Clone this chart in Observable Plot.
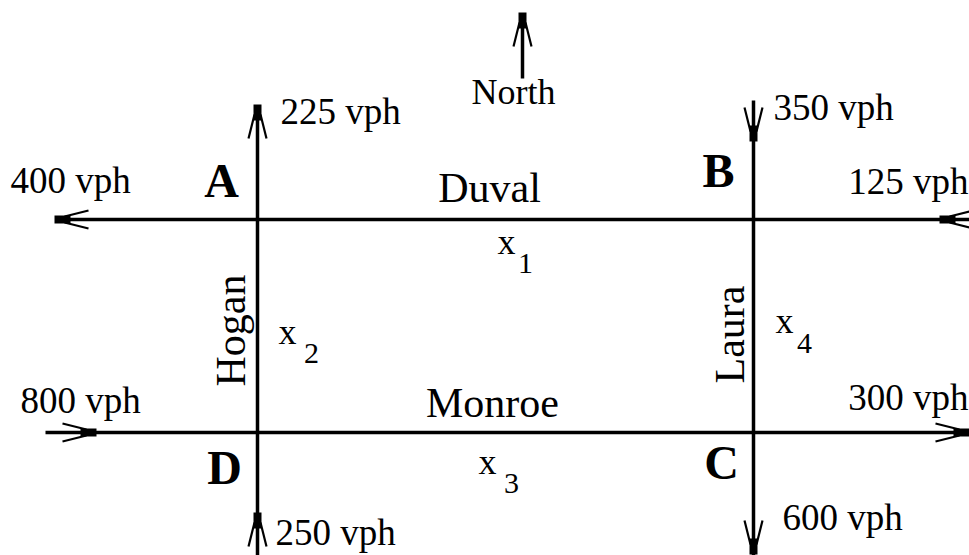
<!DOCTYPE html>
<html><head><meta charset="utf-8">
<script src="https://cdn.jsdelivr.net/npm/d3@7"></script>
<script src="https://cdn.jsdelivr.net/npm/@observablehq/plot@0.6"></script>
<style>html,body{margin:0;padding:0;background:#fff;overflow:hidden}</style>
</head><body><div id="chart"></div>
<script>
// ---- data ----
const intersections = ["A", "B", "C", "D"];
const streets = ["Duval", "Monroe", "Hogan", "Laura"];
const flows = [400, 225, 350, 125, 800, 250, 600, 300];
const flowUnit = "vph";
const unknownIndex = ["1", "2", "3", "4"];
const compass = ["North"];

// ---- layout (pixel space) ----
const W = 969, H = 555;
const intersectionPos = [[221, 181], [718, 171], [721, 463], [224, 468]];
const streetLabelPos = [[489, 188, 0], [492, 403, 0], [231, 330, -90], [730, 334, -90]];
const streetLines = [[55, 219, 969, 219], [45, 432, 969, 432], [257, 105, 257, 555], [753, 100, 753, 555], [522, 13, 522, 78]];
// [x, y, anchor]
const flowLabelPos = [[10, 181, "start"], [280, 112, "start"], [773, 108, "start"], [968, 182, "end"], [20, 401, "start"], [275, 533, "start"], [782, 518, "start"], [968, 398, "end"]];
const arrowTips = [[55, 219, -1, 0], [257, 105, 0, -1], [753, 140, 0, 1], [940, 219, -1, 0], [95, 432, 1, 0], [257, 513, 0, -1], [753, 553, 0, 1], [968, 432, 1, 0], [522, 13, 0, -1]];
const unknownXPos = [[506, 253], [287, 343], [487, 473], [784, 332]];
const unknownSubPos = [[525, 272], [311, 362], [511, 492], [804, 352]];
const compassPos = [[513, 92]];

// ---- build tables ----
const fsVph = 37, fsStreet = 42, fsNode = 48, fsX = 36, fsSub = 30, fsNorth = 36;
const flowData = flows.map((v, i) => ({label: `${v} ${flowUnit}`, x: flowLabelPos[i][0], y: flowLabelPos[i][1], a: flowLabelPos[i][2]}));
const nodeData = intersections.map((n, i) => ({label: n, x: intersectionPos[i][0], y: intersectionPos[i][1]}));
const streetData = streets.map((s, i) => ({label: s, x: streetLabelPos[i][0], y: streetLabelPos[i][1], r: streetLabelPos[i][2]}));
const lineData = streetLines.map(([x1, y1, x2, y2]) => ({x1, y1, x2, y2}));
const xData = unknownIndex.map((k, i) => ({label: "x", x: unknownXPos[i][0], y: unknownXPos[i][1] - 0.32 * fsX}));
const subData = unknownIndex.map((k, i) => ({label: k, x: unknownSubPos[i][0], y: unknownSubPos[i][1] - 0.32 * fsSub}));
const northData = compass.map((c, i) => ({label: c, x: compassPos[i][0], y: compassPos[i][1]}));

const heads = [], barbs = [];
for (const [tx, ty, dx, dy] of arrowTips) {
  const px = -dy, py = dx;
  heads.push({x1: tx + dx, y1: ty + dy, x2: tx - 15 * dx, y2: ty - 15 * dy});
  for (const s of [-1, 1]) {
    barbs.push({x1: tx - 9 * dx + s * 3 * px, y1: ty - 9 * dy + s * 3 * py,
                x2: tx - 33 * dx + s * 9 * px, y2: ty - 33 * dy + s * 9 * py});
  }
}

const font = "'Liberation Serif', 'Times New Roman', serif";
const plot = Plot.plot({
  width: W, height: H,
  margin: 0,
  x: {domain: [0, W], range: [0, W], axis: null},
  y: {domain: [0, H], range: [0, H], axis: null},
  style: {fontFamily: font, background: "white", overflow: "hidden"},
  marks: [
    Plot.link(lineData, {x1: "x1", y1: "y1", x2: "x2", y2: "y2", stroke: "black", strokeWidth: 3.5, strokeLinecap: "butt"}),
    Plot.link(heads, {x1: "x1", y1: "y1", x2: "x2", y2: "y2", stroke: "black", strokeWidth: 8, strokeLinecap: "butt"}),
    Plot.link(barbs, {x1: "x1", y1: "y1", x2: "x2", y2: "y2", stroke: "black", strokeWidth: 2.2, strokeLinecap: "butt"}),
    Plot.text(flowData.filter(d => d.a === "start"), {x: "x", y: "y", text: "label", textAnchor: "start", lineAnchor: "middle", fontSize: fsVph, fill: "black"}),
    Plot.text(flowData.filter(d => d.a === "end"), {x: "x", y: "y", text: "label", textAnchor: "end", lineAnchor: "middle", fontSize: fsVph, fill: "black"}),
    Plot.text(nodeData, {x: "x", y: "y", text: "label", textAnchor: "middle", lineAnchor: "middle", fontSize: fsNode, fontWeight: "bold", fill: "black"}),
    Plot.text(streetData.filter(d => d.r === 0), {x: "x", y: "y", text: "label", textAnchor: "middle", lineAnchor: "middle", fontSize: fsStreet, fill: "black"}),
    Plot.text(streetData.filter(d => d.r !== 0), {x: "x", y: "y", text: "label", rotate: -90, textAnchor: "middle", lineAnchor: "middle", fontSize: fsStreet, fill: "black"}),
    Plot.text(xData, {x: "x", y: "y", text: "label", textAnchor: "middle", lineAnchor: "middle", fontSize: fsX, fill: "black"}),
    Plot.text(subData, {x: "x", y: "y", text: "label", textAnchor: "middle", lineAnchor: "middle", fontSize: fsSub, fill: "black"}),
    Plot.text(northData, {x: "x", y: "y", text: "label", textAnchor: "middle", lineAnchor: "middle", fontSize: fsNorth, fill: "black"})
  ]
});
document.getElementById("chart").appendChild(plot);
</script></body></html>
